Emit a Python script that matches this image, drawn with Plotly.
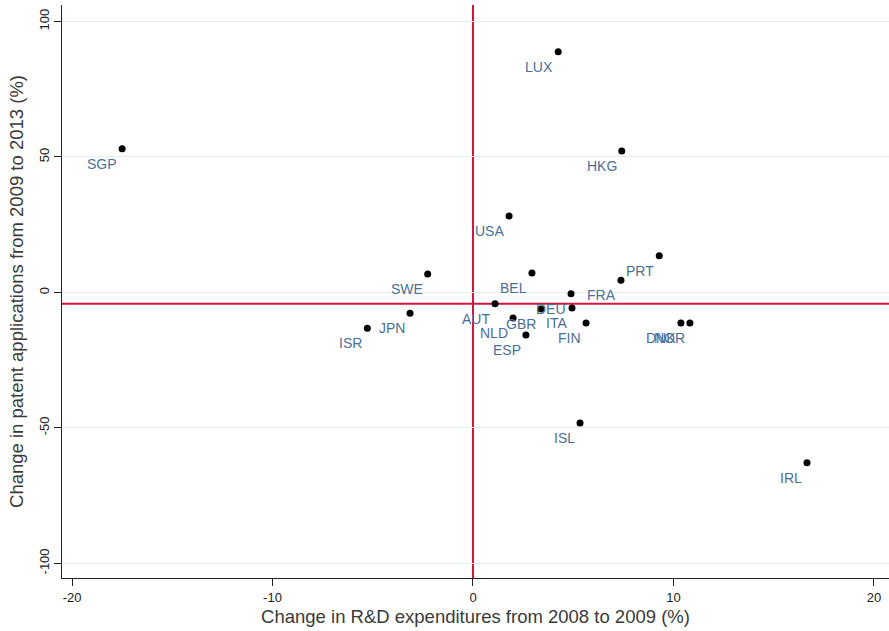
import plotly.graph_objects as go

# Country codes with R&D change (2008-09, %) and patent application change (2009-13, %)
countries = ["SGP", "LUX", "HKG", "USA", "BEL", "SWE", "JPN", "ISR", "PRT", "FRA",
             "DEU", "AUT", "GBR", "ITA", "NLD", "FIN", "ESP", "ISL", "IRL", "DNK", "NOR"]
rd_change = [-17.5, 4.25, 7.42, 1.80, 2.94, -2.26, -3.14, -5.27, 9.29, 7.38,
             4.89, 1.10, 3.39, 4.94, 2.00, 5.64, 2.64, 5.34, 16.66, 10.37, 10.82]
patent_change = [53.0, 88.8, 52.2, 28.2, 7.2, 6.8, -7.7, -13.2, 13.5, 4.5,
                 -0.5, -4.2, -6.1, -5.7, -9.4, -11.3, -15.7, -48.2, -62.9, -11.3, -11.3]

# Reference lines
x_ref = 0
y_ref = -4.2

x_ticks = [-20, -10, 0, 10, 20]
x_tick_text = ["-20", "-10", "0", "10", "20"]
y_ticks = [-100, -50, 0, 50, 100]
y_tick_text = ["-100", "-50", "0", "50", "100"]

label_color = "#4c6f97"
red = "#d2163f"
font_family = "Liberation Sans, Arial, sans-serif"

fig = go.Figure()

fig.add_trace(go.Scatter(
    x=rd_change, y=patent_change, mode="markers",
    marker=dict(size=7, color="black"),
    showlegend=False, cliponaxis=False, hoverinfo="skip",
))

# Country labels sit at the lower-left of each marker
for name, xv, yv in zip(countries, rd_change, patent_change):
    fig.add_annotation(
        x=xv, y=yv, text=name, showarrow=False,
        xanchor="right", yanchor="top", xshift=-3, yshift=-5,
        font=dict(family=font_family, size=14, color=label_color),
    )

fig.add_shape(type="line", xref="x", yref="paper", x0=x_ref, x1=x_ref, y0=0, y1=1,
              line=dict(color=red, width=2), layer="below")
fig.add_shape(type="line", xref="paper", yref="y", x0=0, x1=1, y0=y_ref, y1=y_ref,
              line=dict(color=red, width=2), layer="below")

fig.update_layout(
    width=889, height=631,
    margin=dict(l=62, r=0, t=5, b=53),
    paper_bgcolor="white", plot_bgcolor="white",
    font=dict(family=font_family, color="#333333"),
    xaxis=dict(
        range=[-20.5, 20.75], tickvals=x_ticks, ticktext=x_tick_text,
        showgrid=False, zeroline=False,
        showline=True, linecolor="#222222", linewidth=1,
        ticks="outside", ticklen=7, tickcolor="#222222",
        tickfont=dict(size=13, color="#222222"),
        title=dict(text="Change in R&D expenditures from 2008 to 2009 (%)",
                   font=dict(size=18.5, color="#3a3a3a"), standoff=6),
    ),
    yaxis=dict(
        range=[-105.4, 106.1], tickvals=y_ticks, ticktext=y_tick_text,
        showgrid=True, gridcolor="#e3ecee", gridwidth=1, zeroline=False,
        showline=True, linecolor="#222222", linewidth=1,
        ticks="outside", ticklen=7, tickcolor="#222222", tickangle=-90,
        tickfont=dict(size=13, color="#222222"),
        title=dict(text="Change in patent applications from 2009 to 2013 (%)",
                   font=dict(size=18.5, color="#3a3a3a"), standoff=8),
    ),
)

fig.write_html("out.html")
